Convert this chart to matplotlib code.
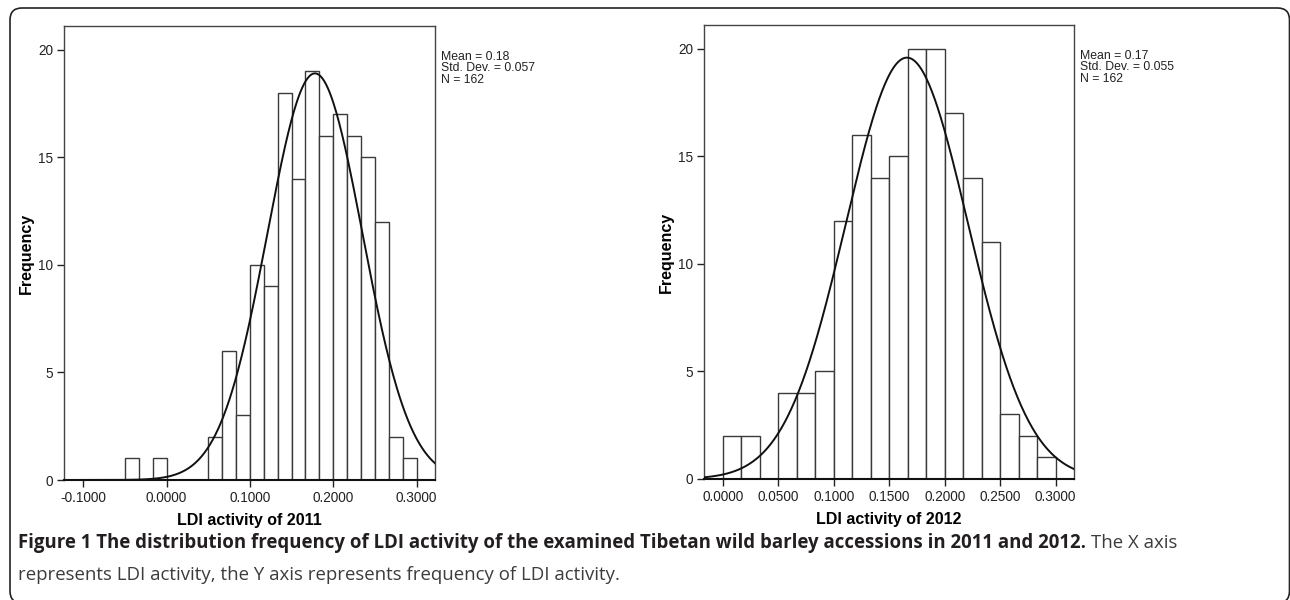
import matplotlib
matplotlib.use('Agg')
import matplotlib.pyplot as plt
from matplotlib.patches import FancyBboxPatch
import numpy as np

plt.rcParams['font.family'] = ['Liberation Sans Narrow', 'Liberation Sans', 'DejaVu Sans']

# ---- Data ----
BIN_W = 1 / 60.0

start_2011 = -0.05
counts_2011 = [1, 0, 1, 0, 0, 0, 2, 6, 3, 10, 9, 18, 14, 19, 16, 17, 16, 15, 12, 2, 1]
mean_2011, sd_2011, n_2011 = 0.178, 0.057, 162

start_2012 = 0.0
counts_2012 = [2, 2, 0, 4, 4, 5, 12, 16, 14, 15, 20, 20, 17, 14, 11, 3, 2, 1]
mean_2012, sd_2012, n_2012 = 0.166, 0.055, 162

stats_2011 = ['Mean = 0.18', 'Std. Dev. = 0.057', 'N = 162']
stats_2012 = ['Mean = 0.17', 'Std. Dev. = 0.055', 'N = 162']

xticks_2011 = [-0.1, 0.0, 0.1, 0.2, 0.3]
xticks_2012 = [0.0, 0.05, 0.10, 0.15, 0.20, 0.25, 0.30]
yticks = [0, 5, 10, 15, 20]

EDGE = '#3a3a3a'
W, H = 1290, 600

fig = plt.figure(figsize=(W / 100, H / 100), dpi=100)

# rounded frame around the whole figure (pixel coordinates)
frame = FancyBboxPatch((10, -3), 1289.5 - 10, H - 8 + 3,
                       boxstyle='round,pad=0,rounding_size=12',
                       transform=None, fc='none', ec='#222222', lw=1.2)
fig.add_artist(frame)


def panel(rect, start, counts, mean, sd, n, xlim, xticks, xlabel, stats):
    ax = fig.add_axes(rect)
    counts = np.asarray(counts)
    lefts = start + np.arange(len(counts)) * BIN_W
    ax.bar(lefts, counts, width=BIN_W, align='edge', color='white',
           edgecolor=EDGE, linewidth=1.0, zorder=2)
    xs = np.linspace(xlim[0], xlim[1], 400)
    ys = n * BIN_W / (sd * np.sqrt(2 * np.pi)) * np.exp(-0.5 * ((xs - mean) / sd) ** 2)
    ax.plot(xs, ys, color='#111111', lw=1.4, zorder=3)
    ax.set_xlim(xlim)
    ax.set_ylim(0, 21.1)
    ax.set_xticks(xticks)
    ax.set_xticklabels([f'{t:.4f}' for t in xticks])
    ax.set_yticks(yticks)
    ax.tick_params(direction='out', length=5, width=1, labelsize=9.8,
                   colors='#222222', pad=3)
    for s in ax.spines.values():
        s.set_linewidth(1.0)
        s.set_color('#444444')
    ax.spines['bottom'].set_linewidth(1.5)
    ax.spines['bottom'].set_color('#111111')
    ax.set_xlabel(xlabel, fontsize=11.5, fontweight='bold',
                  family=['Liberation Sans', 'DejaVu Sans'], labelpad=6)
    ax.set_ylabel('Frequency', fontsize=11.5, fontweight='bold',
                  family=['Liberation Sans', 'DejaVu Sans'])
    ax.yaxis.set_label_coords(-0.082, 0.5)
    ax.text(1.016, 0.946, '\n'.join(stats), transform=ax.transAxes,
            fontsize=8.8, va='top', ha='left', linespacing=0.97, color='#222222')
    return ax


ax1 = panel([64 / W, 120 / H, 371 / W, 454 / H], start_2011, counts_2011,
            mean_2011, sd_2011, n_2011, (-0.123, 0.322), xticks_2011,
            'LDI activity of 2011', stats_2011)
ax2 = panel([704 / W, 121 / H, 370 / W, 454 / H], start_2012, counts_2012,
            mean_2012, sd_2012, n_2012, (-0.0168, 0.3165), xticks_2012,
            'LDI activity of 2012', stats_2012)

# ---- Caption ----
cap_font = ['Open Sans', 'DejaVu Sans']
t1 = fig.text(18 / W, 1 - 548 / H,
              'Figure 1 The distribution frequency of LDI activity of the examined '
              'Tibetan wild barley accessions in 2011 and 2012.',
              family=cap_font, fontweight='bold', fontsize=13.4, color='#231f20',
              va='baseline', ha='left')
fig.canvas.draw()
bb = t1.get_window_extent()
fig.text((bb.x1 + 5) / W, 1 - 548 / H, 'The X axis', family=cap_font,
         fontsize=13.4, color='#3c3c3c', va='baseline', ha='left')
fig.text(18 / W, 1 - 580 / H,
         'represents LDI activity, the Y axis represents frequency of LDI activity.',
         family=cap_font, fontsize=13.4, color='#3c3c3c', va='baseline', ha='left')

fig.savefig('out.png', dpi=100)
